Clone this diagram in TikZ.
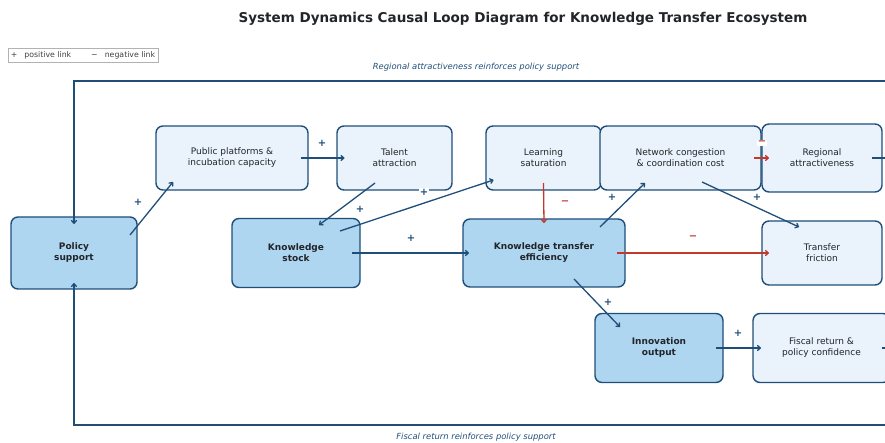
\documentclass[tikz,border=0pt]{standalone}
\usepackage{fontspec}
\setmainfont{DejaVu Sans}
\usepackage{xcolor}
\usetikzlibrary{arrows.meta,positioning,calc}
\definecolor{loopblue}{RGB}{31,78,121}
\definecolor{negred}{RGB}{192,57,43}
\definecolor{inkdark}{RGB}{33,37,41}
\definecolor{keyfill}{RGB}{174,214,241}
\definecolor{palefill}{RGB}{234,243,251}
\tikzset{
  varbox/.style={draw=loopblue,line width=1.4pt,rounded corners=7pt,align=center,
                 inner sep=0pt,text=inkdark,font=\fontsize{9}{11}\selectfont},
  keyvar/.style={varbox,fill=keyfill,font=\bfseries\fontsize{9}{11}\selectfont},
  palevar/.style={varbox,fill=palefill},
  poslink/.style={-{To[length=4pt,width=6pt]},line width=1.3pt,draw=loopblue},
  neglink/.style={poslink,draw=negred},
  possign/.style={font=\bfseries\fontsize{10}{10}\selectfont,text=loopblue,inner sep=1pt},
  negsign/.style={font=\bfseries\fontsize{10}{10}\selectfont,text=negred,inner sep=1pt},
  looplabel/.style={font=\itshape\fontsize{8.4}{9}\selectfont,text=loopblue},
}

\begin{document}
\begin{tikzpicture}[x=1pt,y=-1pt]
        \clip (0,0) rectangle (885,443);
        % title and legend
        \node[font=\bfseries\fontsize{13.5}{15}\selectfont,text=inkdark] (title) at (523,19)
          {System Dynamics Causal Loop Diagram for Knowledge Transfer Ecosystem};
        \node[draw=black!30,line width=0.6pt,minimum width=150,minimum height=14,inner sep=0pt,
              font=\fontsize{7.8}{8}\selectfont,text=black!75] (legend) at (83,55)
          {+\hspace{7pt}positive link\hspace{20pt}−\hspace{7pt}negative link};
        \node[looplabel] (toplbl) at (476,67) {Regional attractiveness reinforces policy support};
        \node[looplabel] (botlbl) at (476,437) {Fiscal return reinforces policy support};
        % variables
        \node[keyvar,minimum width=126,minimum height=72] (policy) at (74,253) {Policy\\support};
        \node[palevar,minimum width=152,minimum height=64] (platform) at (232,158) {Public platforms \&\\incubation capacity};
        \node[palevar,minimum width=115,minimum height=64] (talent) at (394.5,158) {Talent\\attraction};
        \node[palevar,minimum width=115,minimum height=64] (saturation) at (543.5,158) {Learning\\saturation};
        \node[palevar,minimum width=161,minimum height=64] (congestion) at (680.5,158) {Network congestion\\\& coordination cost};
        \node[palevar,minimum width=120,minimum height=68] (regional) at (822,158) {Regional\\attractiveness};
        \node[keyvar,minimum width=128,minimum height=69] (kstock) at (296,253) {Knowledge\\stock};
        \node[keyvar,minimum width=162,minimum height=68] (kte) at (544,253) {Knowledge transfer\\efficiency};
        \node[palevar,minimum width=120,minimum height=64] (friction) at (822,253) {Transfer\\friction};
        \node[keyvar,minimum width=128,minimum height=69] (innovation) at (659,348) {Innovation\\output};
        \node[palevar,minimum width=137,minimum height=69] (fiscal) at (821.5,348) {Fiscal return \&\\policy confidence};
        \coordinate (eastTop) at (900,81);
        \coordinate (eastBot) at (900,425);
        % causal links
        \draw[poslink] ($(policy)+(56,-18)$)--($(platform)+(-59,24)$);
        \draw[poslink] ($(platform)+(69,0)$)--($(talent)+(-50,0)$);
        \draw[poslink] ($(talent)+(-19.5,25)$)--($(kstock)+(23,-28)$);
        \draw[poslink] ($(kstock)+(44,-22)$)--($(saturation)+(-50,22)$);
        \draw[poslink] ($(kstock)+(56,0)$)--($(kte)+(-75,0)$);
        \draw[neglink] ($(saturation)+(0,25)$)--($(kte)+(0,-30)$);
        \draw[poslink] ($(kte)+(56,-26)$)--($(congestion)+(-35.5,25)$);
        \draw[neglink] ($(congestion)+(73.5,0)$)--($(regional)+(-53,0)$);
        \draw[poslink] ($(congestion)+(21.5,24)$)--($(friction)+(-23,-26)$);
        \draw[neglink] ($(kte)+(73,0)$)--($(friction)+(-53,0)$);
        \draw[poslink] ($(kte)+(30,26)$)--($(innovation)+(-39,-21)$);
        \draw[poslink] ($(innovation)+(57,0)$)--($(fiscal)+(-60.5,0)$);
        % outer feedback loops
        \draw[poslink] ($(regional)+(50,0)$)-|(eastTop)-|($(policy)+(0,-29)$);
        \draw[poslink] ($(fiscal)+(60,0)$)-|(eastBot)-|($(policy)+(0,30)$);
        % link polarities
        \node[possign] (sgA) at (138,202) {+};
        \node[possign] (sgB) at (322,143) {+};
        \node[possign] (sgC) at (360,209) {+};
        \node[possign,fill=white] (sgD) at (424,192) {+};
        \node[possign] (sgE) at (411,238) {+};
        \node[negsign] (sgF) at (565,203) {−};
        \node[possign] (sgG) at (612,197) {+};
        \node[negsign,fill=white] (sgH) at (762,143) {−};
        \node[possign] (sgI) at (757,197) {+};
        \node[negsign] (sgJ) at (693,238) {−};
        \node[possign] (sgK) at (608,302) {+};
        \node[possign] (sgL) at (738,333) {+};
      \end{tikzpicture}
\end{document}
